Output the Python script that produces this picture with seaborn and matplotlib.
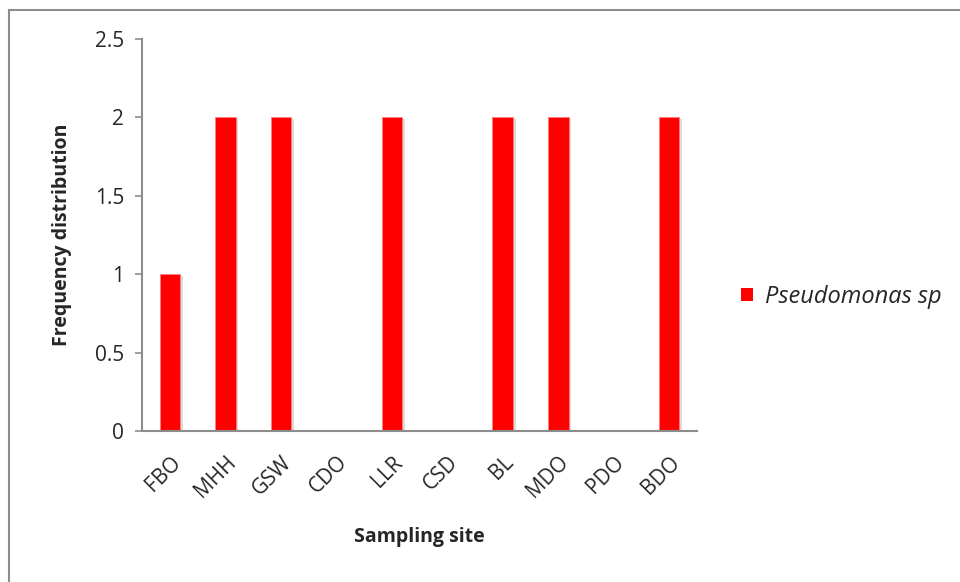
import matplotlib
matplotlib.use("Agg")
import matplotlib.pyplot as plt
import matplotlib.patheffects as pe
from matplotlib.patches import Rectangle
import seaborn as sns
import pandas as pd

sites = ["FBO", "MHH", "GSW", "CDO", "LLR", "CSD", "BL", "MDO", "PDO", "BDO"]
pseudomonas = [1, 2, 2, 0, 2, 0, 2, 2, 0, 2]
y_ticks = [0, 0.5, 1, 1.5, 2, 2.5]
y_tick_labels = ["0", "0.5", "1", "1.5", "2", "2.5"]

df = pd.DataFrame({"site": sites, "freq": pseudomonas})

sns.set_theme(style="white")
plt.rcParams["font.family"] = ["Open Sans", "DejaVu Sans"]

fig = plt.figure(figsize=(9.6, 5.82), dpi=100)
ax = fig.add_axes([0.148, 0.2595, 0.578, 0.6735])

sns.barplot(data=df, x="site", y="freq", color="#FF0000", saturation=1,
            width=0.37, ax=ax, label="Pseudomonas sp")
for bar in ax.patches:
    bar.set_path_effects([pe.SimplePatchShadow(offset=(2, -1.5), shadow_rgbFace="#888888", alpha=0.3),
                          pe.Normal()])
    bar.set_edgecolor("#FF8080")
    bar.set_linewidth(0.6)

ax.set_ylim(0, 2.5)
ax.set_xlim(-0.5, len(sites) - 0.5)
ax.set_yticks(y_ticks)
ax.set_yticklabels(y_tick_labels, fontsize=15)
ax.set_xticks(range(len(sites)))
ax.set_xticklabels(sites, rotation=45, ha="right", va="top", rotation_mode="anchor", fontsize=15)

for s in ["top", "right"]:
    ax.spines[s].set_visible(False)
for s in ["left", "bottom"]:
    ax.spines[s].set_color("#8C8C8C")
    ax.spines[s].set_linewidth(1.5)
ax.tick_params(axis="y", which="both", left=True, length=5, width=1.2, color="#8C8C8C", pad=8)
ax.tick_params(axis="x", bottom=False, pad=9)

ax.set_xlabel("Sampling site", fontsize=14, fontweight="bold")
ax.set_ylabel("Frequency distribution", fontsize=14, fontweight="bold")
ax.xaxis.set_label_coords(0.5, -0.245)
ax.yaxis.set_label_coords(-0.126, 0.5)

leg = ax.legend(loc="center left", bbox_to_anchor=(1.08, 0.342), frameon=False,
                handlelength=0.5, handleheight=0.5, handletextpad=0.5,
                borderaxespad=0, borderpad=0,
                prop={"style": "italic", "size": 17})
for h in leg.legend_handles:
    h.set_path_effects([])
    h.set_edgecolor("none")

# outer frame around the chart area
fig.patches.append(Rectangle((8.5 / 960, -0.1), 1.2, 1 - 9.5 / 582 + 0.1,
                             transform=fig.transFigure, fill=False,
                             edgecolor="#8C8C8C", linewidth=1.5))

fig.savefig("out.png", dpi=100)
